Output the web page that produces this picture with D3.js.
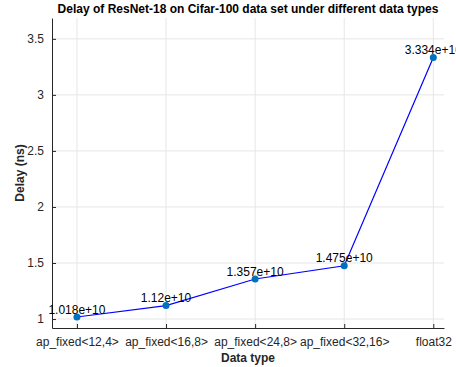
<!DOCTYPE html>
<html>
<head>
<meta charset="utf-8">
<script src="https://cdn.jsdelivr.net/npm/d3@7"></script>
<style>
  body { margin: 0; background: #fff; }
  text { font-family: "Liberation Sans", Arial, sans-serif; fill: #262626; }
</style>
</head>
<body>
<div id="chart"></div>
<script>
// data
const categories = ["ap_fixed<12,4>", "ap_fixed<16,8>", "ap_fixed<24,8>", "ap_fixed<32,16>", "float32"];
const delays = [1.018, 1.12, 1.357, 1.475, 3.334];
const delayLabels = ["1.018e+10", "1.12e+10", "1.357e+10", "1.475e+10", "3.334e+10"];
const yTicks = [1, 1.5, 2, 2.5, 3, 3.5];

const width = 456, height = 367;
const plot = { left: 52, right: 444, top: 18, bottom: 328 };

const svg = d3.select("#chart").append("svg")
  .attr("width", width)
  .attr("height", height);

const x = d3.scaleLinear().domain([0.72, 5.12]).range([plot.left, plot.right]);
const y = d3.scaleLinear().domain([0.92, 3.686]).range([plot.bottom, plot.top]);

const points = delays.map((d, i) => ({ i: i + 1, v: d, label: delayLabels[i] }));

// grid
svg.append("g").selectAll("line")
  .data(yTicks).enter().append("line")
  .attr("x1", plot.left).attr("x2", plot.right)
  .attr("y1", d => y(d)).attr("y2", d => y(d))
  .attr("stroke", "#e6e6e6");
svg.append("g").selectAll("line")
  .data(d3.range(1, 6)).enter().append("line")
  .attr("x1", d => x(d)).attr("x2", d => x(d))
  .attr("y1", plot.top).attr("y2", plot.bottom)
  .attr("stroke", "#e6e6e6");

// axes
const xAxis = svg.append("g")
  .attr("transform", `translate(0,${plot.bottom})`)
  .call(d3.axisBottom(x).tickValues(d3.range(1, 6)).tickFormat(d => categories[d - 1]).tickSizeInner(-4).tickSizeOuter(0).tickPadding(9));
const yAxis = svg.append("g")
  .attr("transform", `translate(${plot.left},0)`)
  .call(d3.axisLeft(y).tickValues(yTicks).tickFormat(d3.format("")).tickSizeInner(-4).tickSizeOuter(0).tickPadding(8));

[xAxis, yAxis].forEach(g => {
  g.select(".domain").attr("stroke", "#262626");
  g.selectAll(".tick line").attr("stroke", "#262626");
  g.selectAll("text").attr("font-size", 12).attr("fill", "#262626")
    .style("font-family", '"Liberation Sans", Arial, sans-serif');
});

// line + markers
svg.append("path")
  .datum(points)
  .attr("fill", "none")
  .attr("stroke", "#0000ff")
  .attr("stroke-width", 1.2)
  .attr("d", d3.line().x(d => x(d.i)).y(d => y(d.v)));

svg.append("g").selectAll("circle")
  .data(points).enter().append("circle")
  .attr("cx", d => x(d.i)).attr("cy", d => y(d.v))
  .attr("r", 3.5)
  .attr("fill", "#0072bd");

svg.append("g").selectAll("text")
  .data(points).enter().append("text")
  .attr("x", d => x(d.i)).attr("y", d => y(d.v) - 3.5)
  .attr("text-anchor", "middle")
  .attr("font-size", 12)
  .style("fill", "#000")
  .text(d => d.label);

// titles
svg.append("text")
  .attr("x", (plot.left + plot.right) / 2).attr("y", 13)
  .attr("text-anchor", "middle")
  .attr("font-size", 12).attr("font-weight", "bold")
  .style("fill", "#000")
  .text("Delay of ResNet-18 on Cifar-100 data set under different data types");

svg.append("text")
  .attr("x", (plot.left + plot.right) / 2).attr("y", 362)
  .attr("text-anchor", "middle")
  .attr("font-size", 12).attr("font-weight", "bold")
  .text("Data type");

svg.append("text")
  .attr("transform", `translate(24,${(plot.top + plot.bottom) / 2}) rotate(-90)`)
  .attr("text-anchor", "middle")
  .attr("font-size", 12).attr("font-weight", "bold")
  .text("Delay (ns)");
</script>
</body>
</html>
